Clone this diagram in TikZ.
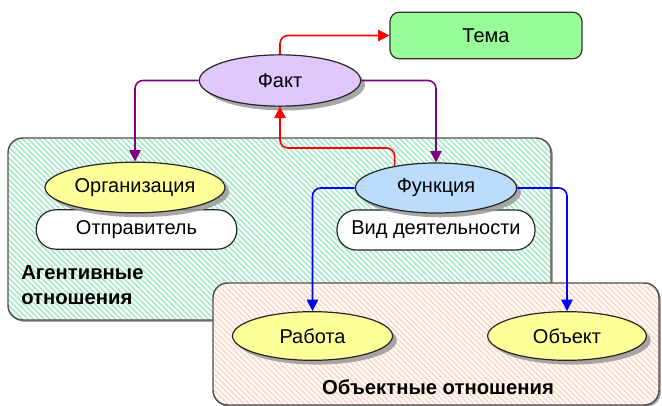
\documentclass[tikz,border=0pt]{standalone}
\usepackage{fontspec}
\setmainfont{Liberation Sans}
\usetikzlibrary{shapes.geometric,arrows.meta,shadows,patterns.meta}

\definecolor{hatchgreen}{HTML}{A6EBC6}
\definecolor{hatchorange}{HTML}{FFD9C4}
\definecolor{regionline}{HTML}{505050}
\definecolor{temafill}{HTML}{98FC98}
\definecolor{faktfill}{HTML}{E0C8FC}
\definecolor{yellowfill}{HTML}{FFFF99}
\definecolor{bluefill}{HTML}{BCDCFC}
\definecolor{purpleline}{HTML}{800080}
\definecolor{redline}{HTML}{FF0000}
\definecolor{blueline}{HTML}{0000FF}

\tikzset{
  region/.style={draw=regionline, line width=1.1pt, rounded corners=11pt,
    inner sep=0pt,
    drop shadow={shadow xshift=1.4pt, shadow yshift=-1.4pt, fill=black!45, opacity=0.8},
    preaction={fill=white}},
  greenhatch/.style={region, pattern={Lines[angle=-45,distance=2.9pt,line width=1.2pt]}, pattern color=hatchgreen},
  orangehatch/.style={region, pattern={Lines[angle=-45,distance=2.9pt,line width=1.2pt]}, pattern color=hatchorange},
  oval/.style={ellipse, draw=black!85, line width=0.9pt, inner sep=0pt,
    drop shadow={shadow xshift=3.2pt, shadow yshift=-3.2pt, fill=black!40, opacity=0.85}},
  pill/.style={rectangle, draw=black!85, line width=0.9pt, fill=white, inner sep=0pt,
    rounded corners=14.5pt},
  themebox/.style={rectangle, draw=black!80, line width=0.9pt, fill=temafill, inner sep=0pt,
    rounded corners=7pt},
  link/.style={line width=1.2pt, rounded corners=6pt, -{Triangle[length=8.5pt,width=8.5pt]}},
  caption/.style={font=\fontsize{15.2}{19}\selectfont\bfseries, align=left, inner sep=0pt}
}

\begin{document}
\begin{tikzpicture}[x=0.75pt, y=-0.75pt, font=\fontsize{15}{18}\selectfont]
  \useasboundingbox (0,0) rectangle (662,406);

  % relation areas
  \node[greenhatch, minimum width=407.25pt, minimum height=136.5pt] (agentarea) at (279.5,229) {};
  \node[caption, anchor=west] (agentlabel) at (21,285) {Агентивные\\отношения};
  \node[orangehatch, minimum width=334.5pt, minimum height=91.5pt] (objarea) at (436,344) {};
  \node[caption, anchor=center] (objlabel) at (438,387) {Объектные отношения};

  % topic and fact
  \node[themebox, minimum width=144pt, minimum height=35pt] (tema) at (486,35.5) {Тема};
  \node[oval, fill=faktfill, minimum width=121pt, minimum height=38.5pt] (fakt) at (280,80.5) {Факт};

  % agent side
  \node[pill, minimum width=150.5pt, minimum height=29.5pt] (sender) at (136.5,229.5) {Отправитель};
  \node[oval, fill=yellowfill, minimum width=135pt, minimum height=38pt] (org) at (135,187.5) {Организация};

  % function
  \node[pill, minimum width=148.5pt, minimum height=30pt] (activity) at (436,230) {Вид деятельности};
  \node[oval, fill=bluefill, minimum width=121pt, minimum height=37.5pt] (func) at (436,188) {Функция};

  % objects
  \node[oval, fill=yellowfill, minimum width=120pt, minimum height=36.5pt] (work) at (312.5,336) {Работа};
  \node[oval, fill=yellowfill, minimum width=119pt, minimum height=36.5pt] (object) at (567,336) {Объект};

  % connectors
  \draw[link, redline] (fakt.north) |- (tema.west);
  \draw[link, purpleline] (fakt.west) -| (org.north);
  \draw[link, purpleline] (fakt.east) -| (func.north);
  \path (func.152) ++(0,-18) coordinate (redturn);
  \draw[link, redline] (func.152) -- (redturn) -| (fakt.south);
  \draw[link, blueline] (func.west) -| (work.north);
  \draw[link, blueline] (func.east) -| (object.north);
\end{tikzpicture}
\end{document}
